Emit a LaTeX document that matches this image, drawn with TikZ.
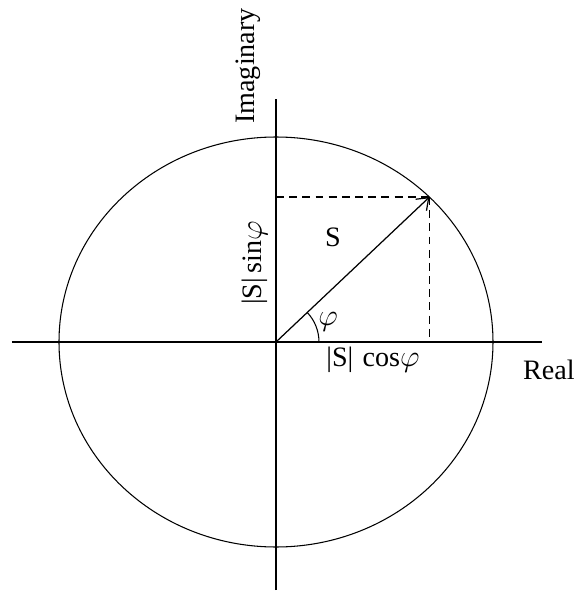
\documentclass[tikz,border=0pt]{standalone}
\usepackage{fontspec}
\setmainfont{Liberation Serif}
\usetikzlibrary{arrows.meta, positioning, calc}

\begin{document}
\begin{tikzpicture}[
  axis/.style={line width=0.8pt},
  circ/.style={line width=0.6pt},
  proj/.style={dash pattern=on 4.5pt off 3pt, line width=0.8pt},
  vec/.style={-{Straight Barb[length=6pt,width=9pt]}, line width=0.7pt},
  lbl/.style={font=\fontsize{16}{19}\selectfont, inner sep=1pt}
]
\useasboundingbox (-5.52,-5.02) rectangle (6.04,6.84);

% axes and locus
\coordinate (O)   at (0,0);
\coordinate (xl)  at (-5.28,0);
\coordinate (xr)  at (5.32,0);
\coordinate (yt)  at (0,4.86);
\coordinate (yb)  at (0,-4.96);
\coordinate (tip) at (45:4.34cm and 4.10cm);
\coordinate (tipx) at (tip |- O);
\coordinate (tipy) at (O |- tip);

\draw[axis] (xl) -- (xr);
\draw[axis] (yb) -- (yt);
\draw[circ] (O) ellipse [x radius=4.34, y radius=4.10];

% vector and projections
\draw[proj] (tipy) -- (tip);
\draw[proj] (tip) -- (tipx);
\draw[vec]  (O) -- (tip);
\draw[circ] (0.86,0) arc[start angle=0, end angle=43.4, radius=0.86];

\node[lbl] (real)  at (5.46,-0.56) {Real};
\node[lbl, rotate=90] (imag) at (-0.56,5.52) {Imaginary};
\node[lbl] (s)     at (1.14,2.10) {S};
\node[lbl, rotate=90] (ssin) at (-0.42,1.58) {|S|\,sin$\varphi$};
\node[lbl] (phi)   at (1.04,0.40) {$\varphi$};
\node[lbl] (scos)  at (1.94,-0.36) {|S|\,\,cos$\varphi$};
\end{tikzpicture}
\end{document}
